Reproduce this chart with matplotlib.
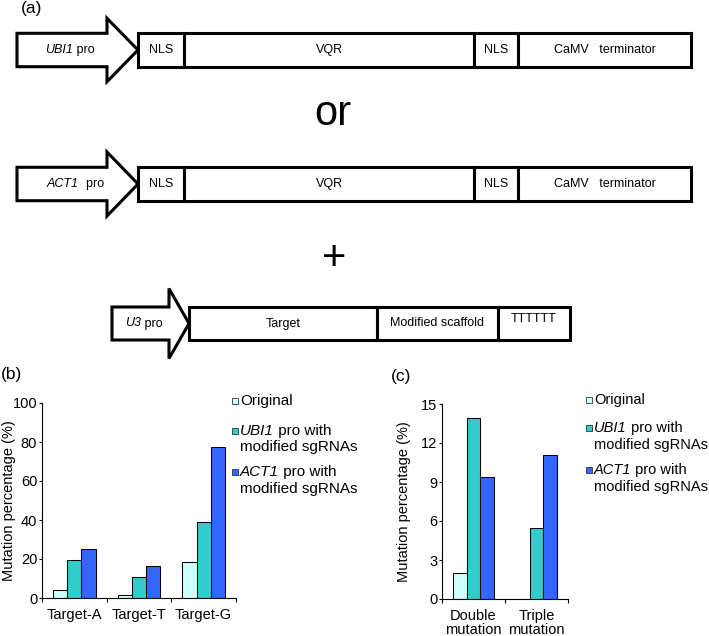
import numpy as np
import matplotlib
matplotlib.use('Agg')
import matplotlib.pyplot as plt
from matplotlib.patches import Polygon, Rectangle

plt.rcParams['font.family'] = ['Liberation Sans', 'DejaVu Sans']

W, H = 709, 636

# data
colors = ['#ccffff', '#33cccc', '#3366ff']

targets = ['Target-A', 'Target-T', 'Target-G']
target_original = [4.0, 1.5, 18.5]
target_ubi1 = [19.5, 11.0, 39.0]
target_act1 = [25.0, 16.5, 77.5]

multi = ['Double\nmutation', 'Triple\nmutation']
multi_original = [2.0, 0.0]
multi_ubi1 = [13.9, 5.5]
multi_act1 = [9.4, 11.1]

fig = plt.figure(figsize=(W / 100, H / 100), dpi=100)

# full-figure axes in pixel units for the construct diagram and free text
ax0 = fig.add_axes([0, 0, 1, 1])
ax0.set_xlim(0, W)
ax0.set_ylim(H, 0)
ax0.axis('off')

LW = 2.2


def promoter(x0, xb, xt, yc, hb, hh):
    pts = [(x0, yc - hb), (xb, yc - hb), (xb, yc - hh), (xt, yc),
           (xb, yc + hh), (xb, yc + hb), (x0, yc + hb)]
    ax0.add_patch(Polygon(pts, closed=True, fc='white', ec='black',
                          lw=LW, joinstyle='miter'))


def blocks(edges, labels, yc, hb, dy=None):
    for i, lab in enumerate(labels):
        a, b = edges[i], edges[i + 1]
        ax0.add_patch(Rectangle((a, yc - hb), b - a, 2 * hb, fc='white',
                                ec='black', lw=LW, joinstyle='miter'))
        off = 0 if dy is None else dy[i]
        ax0.text((a + b) / 2, yc + off, lab, ha='center', va='center', fontsize=9)


def rich(x, y, parts, size):
    t = None
    for s, style in parts:
        if t is None:
            t = ax0.text(x, y, s, fontsize=size, style=style, ha='left', va='center')
        else:
            t = ax0.annotate(s, xy=(1, 0), xycoords=t, fontsize=size,
                             style=style, ha='left', va='bottom')


cas_labels = ['NLS', 'VQR', 'NLS', 'CaMV   terminator']
cas_edges = [138, 184, 474, 518, 691]

# row 1: UBI1
promoter(17, 107, 138, 50, 16.7, 31.7)
blocks(cas_edges, cas_labels, 50, 16.7)
rich(45, 50, [('UBI1', 'italic'), (' pro', 'normal')], 9)

ax0.text(333, 114, 'or', ha='center', va='center', fontsize=30)

# row 2: ACT1
promoter(17, 107, 138, 184, 16.7, 32)
blocks(cas_edges, cas_labels, 184, 16.7)
rich(47, 184, [('ACT1', 'italic'), ('  pro', 'normal')], 9)

ax0.text(334, 259, '+', ha='center', va='center', fontsize=30)

# row 3: U3 sgRNA
promoter(112, 169, 189, 323.5, 16.5, 35)
blocks([189, 377, 498, 570], ['Target', 'Modified scaffold', 'TTTTTT'],
       323.5, 16.5, dy=[0, 0, -5])
rich(125, 323.5, [('U3', 'italic'), (' pro', 'normal')], 9)

# panel letters
ax0.text(21, 9, '(a)', ha='left', va='center', fontsize=12.5)
ax0.text(1, 375, '(b)', ha='left', va='center', fontsize=12.5)
ax0.text(391, 376, '(c)', ha='left', va='center', fontsize=12.5)


def bar_panel(rect, cats, vals, top, yticks, label_x):
    ax = fig.add_axes(rect)
    x = np.arange(len(cats))
    w = 0.22
    for i, (v, c) in enumerate(zip(vals, colors)):
        ax.bar(x + (i - 1) * w, v, w, color=c, edgecolor='black', linewidth=0.75)
    ax.set_xlim(-0.5, len(cats) - 0.5)
    ax.set_ylim(0, top)
    ax.set_yticks(yticks)
    ax.set_xticks(x, cats, linespacing=1.0)
    ax.set_xticks(np.arange(len(cats) + 1) - 0.5, minor=True)
    ax.tick_params(axis='x', which='major', length=0, pad=7, labelsize=10.5)
    ax.tick_params(axis='x', which='minor', length=3, width=0.8, direction='out')
    ax.tick_params(axis='y', length=2.5, width=0.8, pad=1, labelsize=10.5)
    for s in ['top', 'right']:
        ax.spines[s].set_visible(False)
    for s in ['left', 'bottom']:
        ax.spines[s].set_linewidth(0.8)
    ax.patch.set_alpha(0)
    ax.set_ylabel('Mutation percentage (%)', fontsize=10.5)
    ax.yaxis.set_label_coords(label_x, 0.5)
    return ax


bar_panel([42 / W, (H - 598) / H, 194 / W, 195 / H], targets,
          [target_original, target_ubi1, target_act1], 100,
          [0, 20, 40, 60, 80, 100], -0.134)
bar_panel([442 / W, (H - 599) / H, 126 / W, 195 / H], multi,
          [multi_original, multi_ubi1, multi_act1], 15,
          [0, 3, 6, 9, 12, 15], -0.246)


def legend(x, ys, size):
    # ys: centre of first line for each entry
    lines = [[('Original', 'normal')],
             [('UBI1', 'italic'), (' pro with', 'normal')],
             [('ACT1', 'italic'), (' pro with', 'normal')]]
    for i, (c, y) in enumerate(zip(colors, ys)):
        ax0.add_patch(Rectangle((x, y - 3), 6, 6, fc=c, ec='#333333', lw=0.6))
        rich(x + 8, y, lines[i], size)
        if i > 0:
            ax0.text(x + 8, y + 16.5, 'modified sgRNAs', ha='left', va='center',
                     fontsize=size)


legend(232, [401, 431, 472], 11)
legend(586, [400, 428, 470], 10.5)

fig.savefig('out.png', dpi=100)
